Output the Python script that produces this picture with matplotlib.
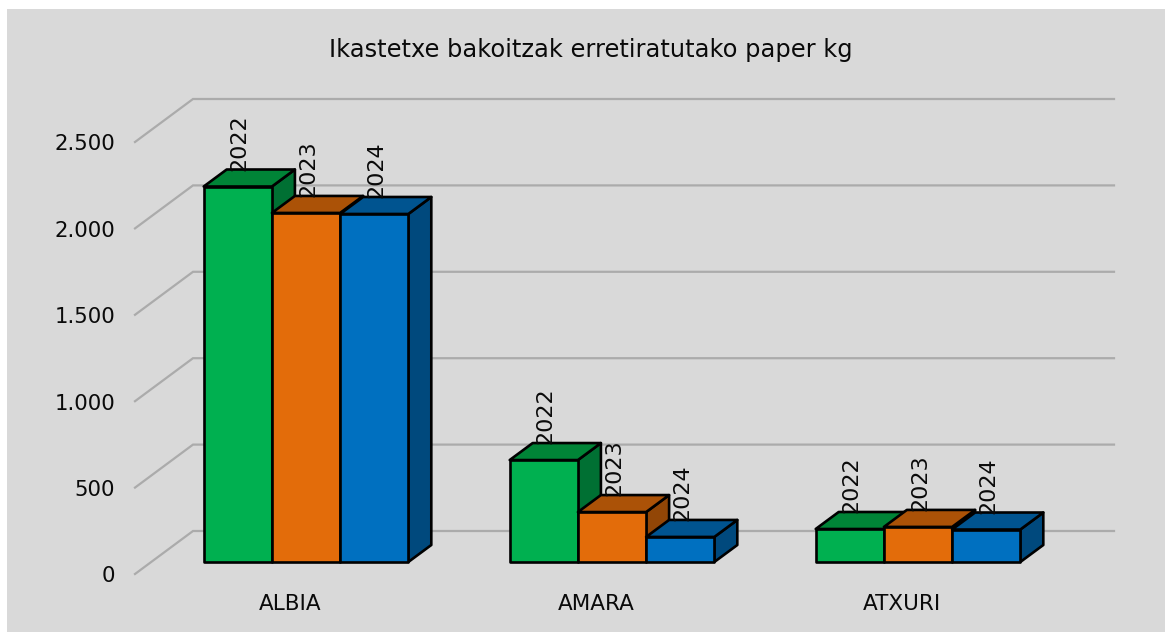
import matplotlib
matplotlib.use('Agg')
import matplotlib.pyplot as plt
from matplotlib.patches import Polygon, Rectangle

categories = ['ALBIA', 'AMARA', 'ATXURI']
years = ['2022', '2023', '2024']
values_2022 = [2173, 590, 191]
values_2023 = [2020, 289, 203]
values_2024 = [2014, 145, 188]
y_ticks = [0, 500, 1000, 1500, 2000, 2500]
y_tick_labels = ['0', '500', '1.000', '1.500', '2.000', '2.500']

# front, top, side
green = ['#00b050', '#008437', '#007033']
orange = ['#e36c0a', '#ab5207', '#924606']
blue = ['#0070c0', '#005490', '#00497d']
series = [(values_2022, green), (values_2023, orange), (values_2024, blue)]

W, H = 1165, 632
px_x = 1 / 306.0  # one category is 306 px wide
px_y = 500 / 86.4  # value per px
bar_w = 68.2 * px_x
base_px = 562  # bar baseline, px from top

fig = plt.figure(figsize=(W / 100, H / 100), dpi=100, facecolor='white')
ax = fig.add_axes([0, 0, 1, 1])
ax.set_xlim(-1, W * px_x - 1)
ax.set_ylim(-(H - base_px) * px_y, base_px * px_y)
ax.axis('off')

# gray panel
ax.add_patch(Rectangle((7 / W, 0), 1, (H - 9) / H, transform=ax.transAxes,
                       fc='#d9d9d9', ec='none', zorder=0.5))

# grid: diagonal from the front edge, then along the back wall
wall_x0 = -1 + 135 * px_x
wall_x1 = -1 + 193 * px_x
wall_x2 = -1 + 1114 * px_x
front_dy = -12 * px_y
back_dy = 31 * px_y
for t, lab in zip(y_ticks, y_tick_labels):
    ax.plot([wall_x0, wall_x1, wall_x2], [t + front_dy, t + back_dy, t + back_dy],
            color='#ababab', lw=1.6, solid_joinstyle='miter', zorder=1)
    ax.text(wall_x0 - 20 * px_x, t + front_dy - 2.3 * px_y, lab,
            ha='right', va='center', fontsize=15.3, color='#0a0a0a', zorder=5)

depth_x = 23 * px_x
depth_y = 17 * px_y
edge = dict(ec='black', lw=1.9, joinstyle='round')

for i, cat in enumerate(categories):
    for j, (vals, cols) in enumerate(series):
        v = vals[i]
        x0 = i + (j - 1.5) * bar_w
        x1 = x0 + bar_w
        z = 2 + j * 0.1 + i
        ax.add_patch(Polygon([(x1, 0), (x1 + depth_x, depth_y), (x1 + depth_x, v + depth_y), (x1, v)],
                             fc=cols[2], zorder=z, **edge))
        ax.add_patch(Polygon([(x0, v), (x0 + depth_x, v + depth_y), (x1 + depth_x, v + depth_y), (x1, v)],
                             fc=cols[1], zorder=z, **edge))
        ax.add_patch(Rectangle((x0, 0), bar_w, v, fc=cols[0], zorder=z, **edge))
        ax.text(x0 + bar_w / 2 + 2 * px_x, v + depth_y - 1 * px_y, years[j], rotation=90,
                ha='center', va='bottom', fontsize=16, color='#0a0a0a', zorder=z + 0.05)
    ax.text(i - 16 * px_x, -42 * px_y, cat, ha='center', va='center', fontsize=15.5, color='#0a0a0a', zorder=6)

ax.text(-1 + 591 * px_x, 512 * px_y, 'Ikastetxe bakoitzak erretiratutako paper kg',
        ha='center', va='center', fontsize=17.4, color='#0a0a0a', zorder=6)

fig.savefig('out.png', dpi=100)
